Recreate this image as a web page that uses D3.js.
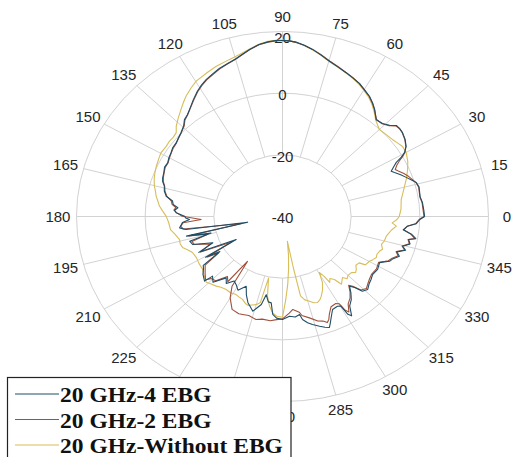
<!DOCTYPE html>
<html>
<head>
<meta charset="utf-8">
<script src="https://cdn.jsdelivr.net/npm/d3@7"></script>
<style>
  body { margin: 0; background: #fff; }
  .tick-text { font-family: "Liberation Sans", Arial, sans-serif; font-size: 15px; fill: #262626; }
  .legend-text { font-family: "Liberation Serif", "Times New Roman", serif; font-size: 21px; font-weight: bold; fill: #111; }
</style>
</head>
<body>
<div id="chart"></div>
<script>
// Chart data: angle (deg) and gain (dB) for each series
let angles4 = [0, 3, 6.4, 9, 11, 13.5, 15.8, 17.5, 19.4, 21.5, 23.6, 24.9, 26.5, 27.9, 29, 30.3, 32.3, 35, 37.9, 40, 41.7, 43.5, 46, 49, 52.3, 54.5, 57, 60, 62.5, 65.5, 68.3, 71.5, 74.8, 78, 80.8, 83.5, 86, 88, 90, 92, 94.3, 97, 100, 102.5, 105, 108, 111, 113.5, 116.5, 119, 121.4, 124.5, 128, 130, 132.2, 134.3, 137.3, 140, 142.4, 145, 147.5, 150, 152.5, 155, 157.5, 160.2, 162, 164, 166.5, 169, 171.1, 173, 174.7, 176.3, 177.8, 179.8, 181, 182, 183.8, 185.5, 187, 188.5, 190.5, 192.8, 194.5, 196.5, 199.1, 202.8, 205.5, 208.9, 210.5, 212, 214.5, 216.4, 219, 222.7, 223.5, 226.5, 230.5, 233, 236, 238.6, 241.5, 245, 247.5, 250.2, 254.3, 257.8, 259.4, 261.5, 263.3, 264.9, 267, 270, 273.6, 276.5, 278.9, 279.9, 282, 284, 286.9, 289, 290.8, 292, 293.4, 295.8, 298.8, 300.3, 301, 302, 304, 306.6, 308.8, 310.8, 312.4, 313.8, 316.3, 319, 321.6, 324.3, 328.2, 332.1, 334, 335, 337, 339.3, 341, 343, 344.6, 346.5, 348.5, 349.5, 351.3, 353, 355, 356.5, 358.6, 360];
let gain4 = [1.4, 1.2, 1.0, 0.6, 0.7, 0.9, 0.5, -0.6, -1.8, -3.0, -4.4, -5.1, -3.8, -2.5, -0.5, 1.2, 2.6, 3.6, 4.3, 4.5, 4.4, 3.0, 1.9, 1.6, 3.9, 5.2, 6.5, 7.6, 8.6, 9.4, 10.2, 11.1, 12.2, 13.6, 14.9, 15.9, 16.7, 17.0, 17.1, 17.1, 16.8, 16.2, 15.0, 13.9, 12.9, 12.1, 11.4, 10.6, 9.7, 8.7, 7.6, 5.9, 4.0, 3.1, 2.5, 1.2, 0.2, -0.4, -0.9, -1.0, -1.5, -1.8, -2.3, -2.1, -2.6, -2.9, -3.3, -4.2, -4.6, -5.5, -7.6, -7.9, -9.4, -8.5, -9.0, -11.5, -11.8, -12.9, -10.8, -10.3, -9.8, -11.5, -29.7, -11.3, -18.5, -11.8, -12.3, -18.0, -13.0, -24.6, -14.0, -18.5, -12.0, -11.4, -10.2, -9.1, -11.9, -10.6, -14.2, -12.8, -14.8, -14.1, -12.8, -15.0, -12.5, -10.3, -8.1, -10.8, -14.2, -12.0, -11.8, -8.1, -7.0, -6.6, -7.6, -7.2, -7.8, -6.1, -4.8, -3.9, -2.8, -2.0, -1.5, -2.8, -4.3, -6.5, -6.8, -6.4, -3.0, -2.0, -5.0, -6.4, -8.2, -10.1, -8.8, -6.4, -5.7, -6.6, -7.1, -7.7, -7.4, -8.0, -6.5, -5.6, -5.0, -3.6, -4.8, -2.5, -3.7, -1.8, -2.5, -0.5, -2.0, -4.5, -3.5, -1.0, 0.0, 1.4];

let angles2 = [0, 3, 6.4, 9, 11, 13.5, 15.8, 17.5, 19.4, 21.5, 23.6, 24.9, 26.5, 27.9, 29, 30.3, 32.3, 35, 37.9, 40, 41.7, 43.5, 46, 49, 52.3, 54.5, 57, 60, 62.5, 65.5, 68.3, 71.5, 74.8, 78, 80.8, 83.5, 86, 88, 90, 92, 94.3, 97, 100, 102.5, 105, 108, 111, 113.5, 116.5, 119, 121.4, 124.5, 128, 130, 132.2, 134.3, 137.3, 140, 142.4, 145, 147.5, 150, 152.5, 155, 157.5, 160.2, 162, 164, 166.5, 169, 171.1, 173, 174.7, 176.3, 177.8, 179.8, 182.3, 184, 186, 188, 190.8, 193, 194.8, 197, 199.5, 203, 205.8, 209.2, 211, 212.5, 215, 217, 219.5, 222.5, 224, 227, 230.5, 233, 235, 237, 240, 244, 248, 250, 253, 257, 260, 264, 267, 270, 273.6, 275.7, 278.9, 280, 283.4, 286.9, 289.1, 290.8, 292, 293.4, 295.8, 298.8, 300.3, 301, 302, 304, 306.6, 308.8, 310.8, 312.4, 313.8, 316.3, 319, 321.6, 324.3, 328.2, 332.1, 334, 335, 337, 339.3, 341, 343, 344.6, 346.5, 348.5, 349.5, 351.3, 353, 355, 356.5, 358.6, 360];
let gain2 = [1.2, 1.0, 0.9, 0.5, 0.6, 0.8, 0.4, -0.3, -1.0, -2.0, -3.2, -3.8, -2.8, -1.5, 0.0, 1.3, 2.5, 3.5, 4.2, 4.4, 4.2, 2.8, 1.8, 1.7, 3.8, 5.1, 6.4, 7.5, 8.6, 9.5, 10.2, 11.2, 12.3, 13.7, 14.9, 15.9, 16.6, 17.0, 17.1, 17.0, 16.7, 16.1, 15.0, 13.8, 12.8, 12.0, 11.2, 10.4, 9.5, 8.5, 7.4, 5.7, 3.9, 3.0, 2.3, 1.0, 0.1, -0.5, -1.0, -1.2, -1.6, -2.0, -2.4, -2.3, -2.7, -3.1, -3.5, -4.3, -4.8, -5.7, -7.2, -7.6, -8.8, -8.3, -9.2, -10.8, -16.3, -11.0, -10.2, -10.8, -27.5, -12.0, -17.5, -12.4, -12.8, -17.2, -13.5, -23.0, -14.5, -17.8, -12.5, -11.8, -10.8, -9.6, -11.0, -11.5, -14.8, -13.5, -22.2, -13.0, -9.5, -6.5, -6.0, -6.2, -6.4, -5.7, -6.2, -6.0, -6.5, -6.8, -8.6, -9.7, -8.6, -7.4, -6.2, -4.6, -4.1, -3.2, -4.0, -5.6, -7.5, -7.8, -7.2, -4.5, -3.5, -5.8, -7.0, -8.6, -10.5, -9.2, -7.0, -6.2, -7.0, -7.6, -8.0, -7.8, -8.3, -6.8, -6.0, -5.3, -4.0, -5.0, -2.8, -3.9, -2.0, -2.7, -0.8, -2.2, -4.6, -3.6, -1.2, -0.2, 1.2];

let anglesW = [0, 4, 9, 12, 15.5, 19, 22.7, 26, 30, 33, 35.5, 38, 41.5, 45, 47, 49, 52, 54.5, 57, 60, 62.5, 65, 68, 71.5, 75, 78, 81, 83.5, 86, 88, 90, 92, 94.3, 97, 100, 103.4, 107, 111.6, 115, 119.8, 122.5, 125.7, 128, 130.4, 133.5, 136.6, 138.7, 141, 143.5, 146.1, 149.6, 152, 156.1, 159, 162, 165.2, 167.5, 169.8, 172, 174.6, 177, 179.8, 183.5, 187.4, 190.5, 194, 196.5, 199, 201.5, 204, 208, 212, 216.4, 220, 223.9, 226.5, 229.5, 232, 235.3, 238.5, 241.9, 244, 246.6, 249, 251, 253, 255, 257, 258.5, 260.4, 262.5, 264.6, 267, 270, 272, 274, 276, 278, 280, 280.8, 281.5, 283.5, 286, 288, 290, 292, 293.6, 296, 298.5, 300.5, 302, 302.8, 304.5, 306.5, 308, 309.5, 311.4, 313, 315, 317.8, 319.5, 321.4, 323.5, 326, 327, 330.2, 332, 334, 336, 338.2, 340, 342.6, 345, 348.1, 350, 352, 354.6, 356.3, 358, 360];
let gainW = [-6.0, -5.4, -5.0, -4.2, -3.1, -1.8, -0.5, 0.6, 1.6, 1.7, 1.1, 0.6, 0.2, -0.1, 0.6, 1.4, 3.3, 4.8, 6.1, 7.3, 8.3, 9.1, 10.0, 11.0, 12.1, 13.5, 14.8, 15.8, 16.6, 17.0, 17.2, 17.2, 17.0, 16.3, 15.2, 14.0, 13.2, 12.4, 11.6, 10.6, 9.5, 8.1, 6.9, 5.6, 4.1, 2.6, 1.2, 0.9, 1.0, 0.8, 1.0, 0.7, 0.2, -0.2, -0.7, -1.4, -2.1, -2.6, -3.3, -4.0, -5.0, -6.1, -6.8, -7.1, -8.2, -9.1, -8.9, -9.2, -10.4, -11.3, -11.6, -11.3, -11.1, -10.2, -9.2, -9.8, -10.3, -10.9, -11.2, -11.0, -11.3, -11.0, -10.7, -9.8, -9.5, -10.0, -10.4, -11.4, -19.6, -13.8, -10.8, -8.7, -7.6, -7.3, -13.0, -18.0, -23.0, -27.5, -31.8, -22.5, -13.7, -12.2, -11.4, -10.6, -10.3, -10.9, -11.8, -13.4, -15.6, -18.9, -17.1, -14.6, -15.6, -14.6, -12.1, -12.8, -13.6, -12.4, -13.0, -12.9, -12.0, -12.5, -13.4, -13.1, -11.2, -10.8, -10.2, -9.6, -9.9, -9.6, -9.0, -9.8, -9.3, -9.1, -8.6, -8.0, -6.7, -8.0, -6.8, -6.0];

let seriesNames = ["20 GHz-4 EBG", "20 GHz-2 EBG", "20 GHz-Without EBG"];
let seriesColors = ["#1f4d66", "#a0503a", "#d8bd58"];

let radialTicks = [-40, -20, 0, 20];
let angleTicks = [0, 15, 30, 45, 60, 75, 90, 105, 120, 135, 150, 165, 180, 195, 210, 225, 240, 255, 270, 285, 300, 315, 330, 345];
// 240 and 255 sit fully under the legend box
let hiddenTicks = [240, 255];

// Set the size and the (slightly stretched) polar frame
let svgWidth = 517;
let svgHeight = 457;
let cx = 282.5;
let cy = 216.5;
let rx = 206;
let ry = 185;

let svg = d3.select("#chart")
    .append("svg")
    .attr("width", svgWidth)
    .attr("height", svgHeight);

// radial scales, one per direction
let rScaleX = d3.scaleLinear().domain([-40, 20]).range([0, rx]);
let rScaleY = d3.scaleLinear().domain([-40, 20]).range([0, ry]);

function px(a, v) {
    return cx + rScaleX(v) * Math.cos(a * Math.PI / 180);
}
function py(a, v) {
    return cy - rScaleY(v) * Math.sin(a * Math.PI / 180);
}

let grid = svg.append("g");

// rings
grid.selectAll("ellipse")
    .data(radialTicks.filter(d => d > -40))
    .join("ellipse")
    .attr("cx", cx)
    .attr("cy", cy)
    .attr("rx", d => rScaleX(d))
    .attr("ry", d => rScaleY(d))
    .attr("fill", "none")
    .attr("stroke", "#d2d2d2")
    .attr("stroke-width", 1);

// spokes from the inner ring out
grid.selectAll("line")
    .data(angleTicks)
    .join("line")
    .attr("x1", d => px(d, -20))
    .attr("y1", d => py(d, -20))
    .attr("x2", d => px(d, 20))
    .attr("y2", d => py(d, 20))
    .attr("stroke", "#d2d2d2")
    .attr("stroke-width", 1);

// angle labels
svg.append("g").selectAll("text")
    .data(angleTicks.filter(d => !hiddenTicks.includes(d)))
    .join("text")
    .attr("class", "tick-text")
    .attr("x", d => cx + rx * 1.09 * Math.cos(d * Math.PI / 180))
    .attr("y", d => cy - ry * 1.08 * Math.sin(d * Math.PI / 180))
    .attr("dy", "0.35em")
    .attr("text-anchor", "middle")
    .text(d => d);

// radial labels
svg.append("g").selectAll("text")
    .data(radialTicks)
    .join("text")
    .attr("class", "tick-text")
    .attr("x", cx)
    .attr("y", d => Math.max(cy - rScaleY(d) + 1.5, cy - ry + 6))
    .attr("dy", "0.35em")
    .attr("text-anchor", "middle")
    .text(d => d);

// curves
let line = d3.line()
    .x(d => px(d[0], d[1]))
    .y(d => py(d[0], d[1]));

let series = [
    d3.zip(angles4, gain4),
    d3.zip(angles2, gain2),
    d3.zip(anglesW, gainW)
];

// draw yellow first, then red, blue on top
[2, 1, 0].forEach(i => {
    svg.append("path")
        .datum(series[i])
        .attr("d", line)
        .attr("fill", "none")
        .attr("stroke", seriesColors[i])
        .attr("stroke-width", 1.1)
        .attr("stroke-linejoin", "round");
});

// legend
let legend = svg.append("g");

legend.append("rect")
    .attr("x", 7.5)
    .attr("y", 377.5)
    .attr("width", 283.5)
    .attr("height", 90)
    .attr("fill", "#fff")
    .attr("stroke", "#222")
    .attr("stroke-width", 1.2);

let rows = legend.selectAll("g.row")
    .data(seriesNames)
    .join("g")
    .attr("class", "row")
    .attr("transform", (d, i) => `translate(0, ${402 + i * 25.5})`);

rows.append("line")
    .attr("x1", 15)
    .attr("x2", 59)
    .attr("y1", -8)
    .attr("y2", -8)
    .attr("stroke", (d, i) => seriesColors[i])
    .attr("stroke-width", 1.1);

// the picture is a bit stretched sideways, so is the legend text
rows.append("text")
    .attr("class", "legend-text")
    .attr("transform", "translate(60, 0) scale(1.12, 1)")
    .text(d => d);
</script>
</body>
</html>
